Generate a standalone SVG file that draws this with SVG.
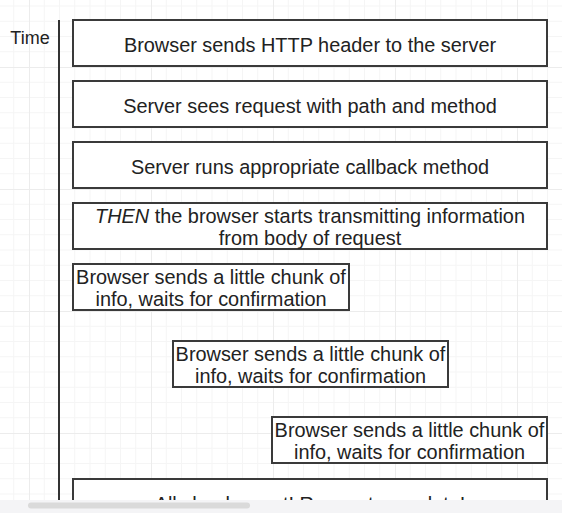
<svg xmlns="http://www.w3.org/2000/svg" width="562" height="513" viewBox="0 0 562 513">
<style>
.box{fill:#fff;stroke:#3a3a3a;stroke-width:2}
.t{font-family:"Liberation Sans",Arial,sans-serif;font-size:19.9px;fill:#222;text-anchor:middle}
.axis{stroke:#333;stroke-width:2;fill:none}
</style>
<defs>
<pattern id="grid" x="29" y="67" width="122" height="122" patternUnits="userSpaceOnUse">
<path d="M15.25 0V122M30.5 0V122M45.75 0V122M61 0V122M76.25 0V122M91.5 0V122M106.75 0V122M0 15.25H122M0 30.5H122M0 45.75H122M0 61H122M0 76.25H122M0 91.5H122M0 106.75H122" stroke="#f5f5f5" stroke-width="1" fill="none"/>
<path d="M0.5 0V122M0 0.5H122" stroke="#ececec" stroke-width="1" fill="none"/>
</pattern>
</defs>
<rect width="562" height="513" fill="#fff"/>
<rect width="562" height="513" fill="url(#grid)"/>
<text class="t" x="30" y="44" style="font-size:18px">Time</text>
<g id="connectors">
<line class="axis" x1="59" y1="20" x2="59" y2="505"/>
</g>
<g id="n1"><rect class="box" x="73" y="20" width="474" height="46"/><text class="t" x="310" y="52">Browser sends HTTP header to the server</text></g>
<g id="n2"><rect class="box" x="73" y="81" width="474" height="46"/><text class="t" x="310" y="113">Server sees request with path and method</text></g>
<g id="n3"><rect class="box" x="73" y="142" width="474" height="46"/><text class="t" x="310" y="174">Server runs appropriate callback method</text></g>
<g id="n4"><rect class="box" x="73" y="203" width="474" height="46"/><text class="t" x="310" y="223"><tspan font-style="italic">THEN</tspan> the browser starts transmitting information</text><text class="t" x="310" y="245">from body of request</text></g>
<g id="n5"><rect class="box" x="73" y="264" width="276" height="46"/><text class="t" x="211" y="284">Browser sends a little chunk of</text><text class="t" x="211" y="306">info, waits for confirmation</text></g>
<g id="n6"><rect class="box" x="173" y="341" width="275" height="46"/><text class="t" x="310.5" y="361">Browser sends a little chunk of</text><text class="t" x="310.5" y="383">info, waits for confirmation</text></g>
<g id="n7"><rect class="box" x="272" y="417" width="275" height="46"/><text class="t" x="409.5" y="437">Browser sends a little chunk of</text><text class="t" x="409.5" y="459">info, waits for confirmation</text></g>
<g id="n8"><rect class="box" x="73" y="479" width="474" height="46"/><text class="t" x="310" y="511">All chunks sent! Request complete!</text></g>
<rect x="0" y="500" width="562" height="13" fill="#f4f4f6"/>
<rect x="28" y="502.5" width="222" height="6" rx="3" fill="#dadada"/>
</svg>
